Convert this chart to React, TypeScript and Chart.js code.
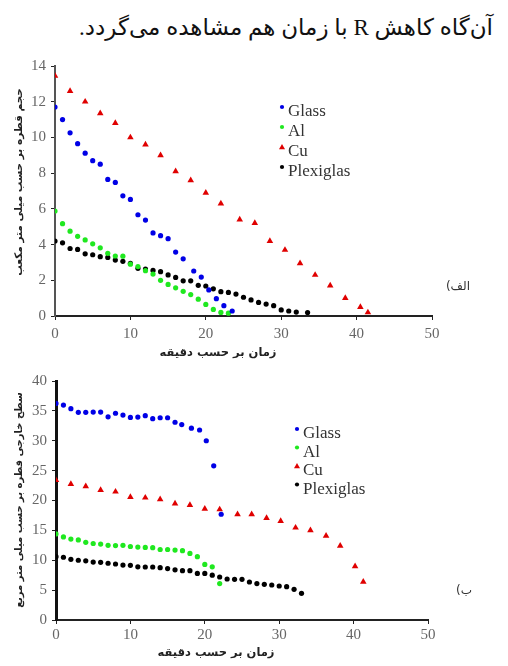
import React, { useEffect, useRef } from "react";
import { Chart, registerables } from "chart.js";

Chart.register(...registerables);

// ---------- data ----------
const seriesNames = ["Glass", "Al", "Cu", "Plexiglas"];
const seriesColors = ["#0000e6", "#1fe81f", "#e00000", "#000000"];
const seriesShapes = ["circle", "circle", "triangle", "circle"];

const xTicks = [0, 10, 20, 30, 40, 50];
const volumeTicks = [0, 2, 4, 6, 8, 10, 12, 14];
const surfaceTicks = [0, 5, 10, 15, 20, 25, 30, 35, 40];

// (الف) volume vs time
const volGlassX = [0, 1, 2, 3, 4, 5, 6, 7, 8, 9, 10, 11, 12, 13, 14, 15, 16, 17, 18.4, 19.4, 20.4, 21.4, 22.4, 23.5];
const volGlassY = [11.7, 11.0, 10.26, 9.65, 9.12, 8.7, 8.5, 7.65, 7.48, 6.73, 6.53, 5.67, 5.37, 4.65, 4.5, 4.33, 3.58, 3.2, 2.52, 2.18, 1.46, 0.97, 0.58, 0.28];
const volAlX = [0, 1, 2, 3, 4, 5, 6, 7, 8, 9, 10, 11, 12, 13, 14, 15, 16, 17, 18, 19, 20, 21, 22, 23];
const volAlY = [5.88, 5.17, 4.75, 4.46, 4.26, 4.04, 3.82, 3.51, 3.36, 3.35, 2.9, 2.77, 2.54, 2.35, 2.0, 1.77, 1.58, 1.38, 1.2, 0.94, 0.65, 0.37, 0.2, 0.16];
const volCuX = [0, 2, 4, 6, 8, 10, 12, 14, 16, 18, 20, 22, 24.5, 26.5, 28.5, 30.5, 32.5, 34.5, 36.5, 38.5, 40.5, 41.5];
const volCuY = [13.45, 12.6, 12.0, 11.35, 10.8, 10.0, 9.6, 9.0, 8.1, 7.6, 6.9, 6.3, 5.4, 5.2, 4.2, 3.7, 2.95, 2.3, 1.7, 1.0, 0.5, 0.2];
const volPlexX = [0, 1, 2, 3, 4, 5, 6, 7, 8, 9, 10, 11, 12, 13, 14, 15, 16, 17, 18, 19, 20, 21, 22, 23, 24, 25, 26, 27, 28, 29, 30, 31, 32, 33.5];
const volPlexY = [4.2, 4.1, 3.78, 3.73, 3.48, 3.43, 3.32, 3.28, 3.13, 3.06, 2.95, 2.67, 2.63, 2.55, 2.48, 2.3, 2.16, 1.97, 1.97, 1.72, 1.68, 1.52, 1.36, 1.32, 1.23, 1.05, 0.9, 0.76, 0.67, 0.58, 0.34, 0.28, 0.22, 0.19];

// (ب) surface vs time
const surfGlassX = [0, 1, 2, 3, 4, 5, 6, 7, 8, 9, 10, 11, 12, 13, 14, 15, 16, 16.9, 18.2, 19.3, 20.2, 21.2, 22.2];
const surfGlassY = [36.25, 35.97, 35.36, 34.75, 34.75, 34.8, 34.8, 34.0, 34.6, 34.3, 33.9, 33.97, 34.2, 33.7, 33.85, 33.85, 33.1, 32.7, 32.1, 31.8, 30.0, 25.8, 17.7];
const surfAlX = [0, 1, 2, 3, 4, 5, 6, 7, 8, 9, 10, 11, 12, 13, 14, 15, 16, 17, 18, 19, 20, 21, 22];
const surfAlY = [14.4, 13.9, 13.55, 13.4, 13.0, 12.8, 12.7, 12.5, 12.45, 12.5, 12.3, 12.2, 12.15, 12.1, 11.8, 11.8, 11.7, 11.6, 11.15, 10.6, 9.3, 8.9, 6.1];
const surfCuX = [0, 2, 4, 6, 8, 10, 12, 14, 16, 18, 20, 22, 24.4, 26.3, 28.3, 30.2, 32.2, 34.2, 36.3, 38.2, 40.2, 41.3];
const surfCuY = [23.4, 22.75, 22.36, 21.75, 21.47, 20.58, 20.47, 20.19, 19.5, 19.24, 18.6, 18.5, 17.7, 17.7, 17.07, 16.56, 15.45, 15.0, 14.1, 12.4, 9.0, 6.4];
const surfPlexX = [0, 1, 2, 3, 4, 5, 6, 7, 8, 9, 10, 11, 12, 13, 14, 15, 16, 17, 18, 19, 20, 21, 22, 23, 24, 25, 26, 27, 28, 29, 30, 31, 32, 33];
const surfPlexY = [10.6, 10.5, 10.15, 10.0, 9.9, 9.7, 9.65, 9.5, 9.37, 9.2, 9.15, 8.9, 8.87, 8.87, 8.75, 8.6, 8.4, 8.25, 8.25, 7.8, 7.8, 7.5, 7.2, 6.86, 6.8, 6.8, 6.36, 6.1, 5.97, 5.86, 5.69, 5.58, 5.13, 4.46];

const headline = "آن‌گاه کاهش R با زمان هم مشاهده می‌گردد.";
const xTitle = "زمان بر حسب دقیقه";
const volumeTitle = "حجم قطره بر حسب میلی متر مکعب";
const surfaceTitle = "سطح خارجی قطره بر حسب میلی متر مربع";
const panelA = "الف)";
const panelB = "ب)";

// ---------- helpers ----------
const zip = (xs: number[], ys: number[]) => xs.map((x, i) => ({ x, y: ys[i] }));
const serif = "'Liberation Serif', 'Times New Roman', serif";

const legendPlugin = {
  id: "sideLegend",
  afterDraw(chart: any, _args: any, opts: any) {
    const ctx = chart.ctx;
    ctx.save();
    ctx.font = "17px " + serif;
    ctx.textBaseline = "middle";
    ctx.textAlign = "left";
    chart.data.datasets.forEach((ds: any, i: number) => {
      const y = opts.y + i * opts.gap;
      const mx = opts.x - 6;
      const my = y - 5;
      ctx.fillStyle = ds.backgroundColor;
      ctx.beginPath();
      if (ds.pointStyle === "triangle") {
        ctx.moveTo(mx, my - 3);
        ctx.lineTo(mx + 3, my + 2.2);
        ctx.lineTo(mx - 3, my + 2.2);
        ctx.closePath();
      } else {
        ctx.arc(mx, my, 2.1, 0, Math.PI * 2);
      }
      ctx.fill();
      ctx.fillStyle = "#333";
      ctx.fillText(ds.label, opts.x, y);
    });
    ctx.restore();
  },
};

type PanelProps = {
  xs: number[][];
  ys: number[][];
  yTicks: number[];
  top: number;
  height: number;
  yWidth: number;
  xHeight: number;
  padTop: number;
  padRight: number;
  xLabelPad: number;
  yBorderWidth: number;
  yBorderColor: string;
  legend: { x: number; y: number; gap: number };
};

function Panel(p: PanelProps) {
  const ref = useRef<HTMLCanvasElement | null>(null);
  useEffect(() => {
    if (!ref.current) return;
    const datasets = seriesNames.map((name, i) => ({
      label: name,
      data: zip(p.xs[i], p.ys[i]),
      backgroundColor: seriesColors[i],
      borderColor: seriesColors[i],
      pointStyle: seriesShapes[i],
      pointRadius: seriesShapes[i] === "triangle" ? 3.8 : 2.6,
      pointBorderWidth: 0,
      showLine: false,
    }));
    const yStep = p.yTicks[1] - p.yTicks[0];
    const chart = new Chart(ref.current, {
      type: "scatter",
      data: { datasets },
      plugins: [legendPlugin],
      options: {
        animation: false,
        responsive: false,
        events: [],
        layout: { padding: { top: p.padTop, right: p.padRight, left: 0, bottom: 0 } },
        plugins: {
          legend: { display: false },
          tooltip: { enabled: false },
          sideLegend: p.legend,
        } as any,
        scales: {
          x: {
            type: "linear",
            min: xTicks[0],
            max: xTicks[xTicks.length - 1],
            afterBuildTicks: (s: any) => {
              s.ticks = xTicks.map((v) => ({ value: v }));
            },
            ticks: {
              color: "#666",
              padding: p.xLabelPad,
              maxRotation: 0,
              autoSkip: false,
              font: { family: serif, size: 15 },
            },
            grid: { drawOnChartArea: false, drawTicks: true, tickLength: 4, color: "#222", lineWidth: 1 },
            border: { color: "#222", width: 2 },
            afterFit: (s: any) => {
              s.height = p.xHeight;
            },
          },
          y: {
            type: "linear",
            min: p.yTicks[0],
            max: p.yTicks[p.yTicks.length - 1],
            ticks: {
              stepSize: yStep,
              color: "#666",
              padding: 5,
              autoSkip: false,
              font: { family: serif, size: 15 },
            },
            grid: { drawOnChartArea: false, drawTicks: true, tickLength: 4, color: "#222", lineWidth: 1 },
            border: { color: p.yBorderColor, width: p.yBorderWidth },
            afterFit: (s: any) => {
              s.width = p.yWidth;
            },
          },
        },
      } as any,
    });
    return () => chart.destroy();
  }, []);
  return (
    <canvas
      ref={ref}
      width={508}
      height={p.height}
      style={{ position: "absolute", left: 0, top: p.top, width: 508, height: p.height }}
    />
  );
}

const arabicFont = "'DejaVu Sans', sans-serif";

export default function App() {
  const vTitle = (text: string, cx: number, cy: number, size: number) => (
    <div
      dir="rtl"
      style={{
        position: "absolute",
        left: cx,
        top: cy,
        transform: "translate(-50%, -50%) rotate(-90deg)",
        whiteSpace: "nowrap",
        fontFamily: arabicFont,
        fontSize: size,
        fontWeight: "bold",
        color: "#222",
      }}
    >
      {text}
    </div>
  );
  const hTitle = (text: string, cx: number, cy: number) => (
    <div
      dir="rtl"
      style={{
        position: "absolute",
        left: cx,
        top: cy,
        transform: "translate(-50%, -50%)",
        whiteSpace: "nowrap",
        fontFamily: arabicFont,
        fontSize: 11.5,
        fontWeight: "bold",
        color: "#222",
      }}
    >
      {text}
    </div>
  );
  const tag = (text: string, right: number, cy: number) => (
    <div
      dir="rtl"
      style={{
        position: "absolute",
        right,
        top: cy,
        transform: "translateY(-50%)",
        whiteSpace: "nowrap",
        fontFamily: arabicFont,
        fontSize: 12,
        color: "#333",
      }}
    >
      {text}
    </div>
  );
  return (
    <div style={{ position: "absolute", left: 0, top: 0, width: 508, height: 666, background: "#fff", overflow: "hidden" }}>
      <div
        dir="rtl"
        style={{
          position: "absolute",
          right: 15,
          top: 27,
          transform: "translateY(-50%)",
          whiteSpace: "nowrap",
          fontFamily: "'Liberation Serif', 'DejaVu Sans', serif",
          fontSize: 23,
          color: "#111",
        }}
      >
        {headline}
      </div>
      <Panel
        xs={[volGlassX, volAlX, volCuX, volPlexX]}
        ys={[volGlassY, volAlY, volCuY, volPlexY]}
        yTicks={volumeTicks}
        top={50}
        height={316}
        yWidth={55}
        xHeight={50}
        padTop={16}
        padRight={76}
        xLabelPad={5}
        yBorderWidth={2}
        yBorderColor="#555"
        legend={{ x: 288, y: 62, gap: 20 }}
      />
      <Panel
        xs={[surfGlassX, surfAlX, surfCuX, surfPlexX]}
        ys={[surfGlassY, surfAlY, surfCuY, surfPlexY]}
        yTicks={surfaceTicks}
        top={366}
        height={300}
        yWidth={56}
        xHeight={46}
        padTop={15}
        padRight={80}
        xLabelPad={2}
        yBorderWidth={3}
        yBorderColor="#111"
        legend={{ x: 303, y: 68, gap: 18.5 }}
      />
      {vTitle(volumeTitle, 18, 182, 10.5)}
      {vTitle(surfaceTitle, 18, 500, 10)}
      {hTitle(xTitle, 218, 352)}
      {hTitle(xTitle, 216, 652)}
      {tag(panelA, 38, 286)}
      {tag(panelB, 36, 590)}
    </div>
  );
}
